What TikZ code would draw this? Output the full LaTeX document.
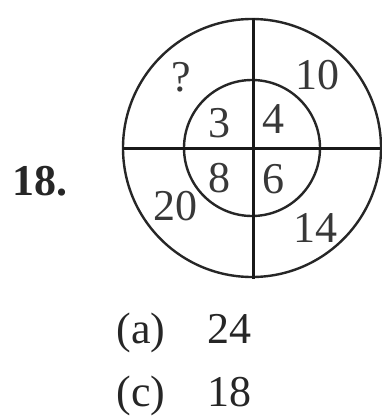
\documentclass[tikz,border=0pt]{standalone}
\usepackage{fontspec}
\setmainfont{Liberation Serif}
\begin{document}
\begin{tikzpicture}[x=1pt,y=-1pt,
  ring/.style={draw=black!85,line width=2.4pt},
  axis/.style={draw=black!90,line width=3pt},
  num/.style={inner sep=0pt,anchor=base,text=black!78,font=\fontsize{44}{48}\selectfont},
  lbl/.style={inner sep=0pt,anchor=base,text=black!85,font=\fontsize{44}{48}\selectfont}]
\useasboundingbox (0,0) rectangle (381,417);
\coordinate (c) at (252,148);
\draw[ring] (c) circle[radius=129];
\draw[ring] (c) circle[radius=68];
\coordinate (top) at (253,18);
\coordinate (bot) at (253,279);
\coordinate (lft) at (123,148);
\coordinate (rgt) at (380,148);
\draw[axis] (top) -- (bot);
\draw[axis] (lft) -- (rgt);
\node[num] (q) at (181,92) {?};
\node[num] (n10) at (317,90) {10};
\node[num] (n3) at (219,137) {3};
\node[num] (n4) at (273,133) {4};
\node[num] (n8) at (219,192) {8};
\node[num] (n6) at (273,193) {6};
\node[num] (n20) at (175,220) {20};
\node[num] (n14) at (315,242) {14};
\node[lbl,font=\fontsize{44}{48}\selectfont\bfseries] (q18) at (40,195) {18.};
\node[lbl] (a) at (141,343) {(a)};
\node[lbl] (a24) at (229,343) {24};
\node[lbl] (c1) at (141,406) {(c)};
\node[lbl] (c18) at (229,406) {18};
\end{tikzpicture}
\end{document}
